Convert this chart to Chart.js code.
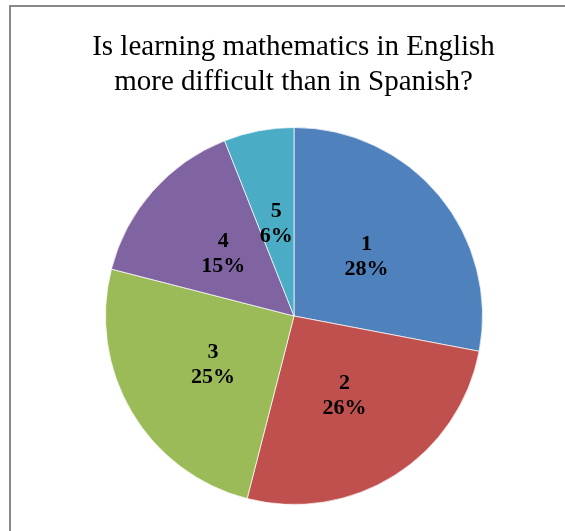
<!DOCTYPE html>
<html>
<head>
<meta charset="utf-8">
<script src="https://cdn.jsdelivr.net/npm/chart.js@4/dist/chart.umd.min.js"></script>
<style>
  html, body { margin: 0; padding: 0; background: #ffffff; }
  #wrap { position: relative; width: 565px; height: 531px; }
</style>
</head>
<body>
<div id="wrap"><canvas id="pie" width="565" height="531"></canvas></div>
<script>
// Survey answers on a 1–5 scale
const answers = ['1', '2', '3', '4', '5'];
const percents = [28, 26, 25, 15, 6];
const sliceColors = ['#4F81BD', '#C0504D', '#9BBB59', '#8064A2', '#4BACC6'];
const titleLines = ['Is learning mathematics in English', 'more difficult than in Spanish?'];

// Grey frame and the two-line heading
const framePlugin = {
  id: 'frame',
  beforeDraw(chart) {
    const ctx = chart.ctx;
    ctx.save();
    ctx.fillStyle = '#ffffff';
    ctx.fillRect(0, 0, chart.width, chart.height);
    ctx.strokeStyle = '#888888';
    ctx.lineWidth = 2;
    ctx.strokeRect(10, 6, chart.width + 20, chart.height + 20);

    ctx.fillStyle = '#000000';
    ctx.font = '29px "Times New Roman", "Liberation Serif", serif';
    ctx.textAlign = 'center';
    ctx.textBaseline = 'alphabetic';
    titleLines.forEach((line, i) => {
      ctx.fillText(line, 293.5, 55 + i * 35);
    });
    ctx.restore();
  }
};

// Category and percentage printed inside each slice
const sliceLabelPlugin = {
  id: 'sliceLabels',
  afterDatasetsDraw(chart) {
    const ctx = chart.ctx;
    const meta = chart.getDatasetMeta(0);
    ctx.save();
    ctx.font = 'bold 22px "Times New Roman", "Liberation Serif", serif';
    ctx.fillStyle = '#000000';
    ctx.textAlign = 'center';
    ctx.textBaseline = 'middle';
    meta.data.forEach((arc, i) => {
      const p = arc.getProps(['x', 'y', 'startAngle', 'endAngle', 'outerRadius'], true);
      const mid = (p.startAngle + p.endAngle) / 2;
      const r = p.outerRadius * 0.5;
      const cx = p.x + Math.cos(mid) * r;
      const cy = p.y + Math.sin(mid) * r;
      ctx.fillText(answers[i], cx, cy - 12);
      ctx.fillText(percents[i] + '%', cx, cy + 13);
    });
    ctx.restore();
  }
};

new Chart(document.getElementById('pie'), {
  type: 'pie',
  data: {
    labels: answers,
    datasets: [{
      data: percents,
      backgroundColor: sliceColors,
      borderColor: 'rgba(255,255,255,0.7)',
      borderWidth: 1
    }]
  },
  options: {
    responsive: false,
    animation: false,
    layout: { padding: { left: 105, right: 82, top: 127, bottom: 26 } },
    plugins: {
      legend: { display: false },
      tooltip: { enabled: false },
      title: { display: false }
    }
  },
  plugins: [framePlugin, sliceLabelPlugin]
});
</script>
</body>
</html>
